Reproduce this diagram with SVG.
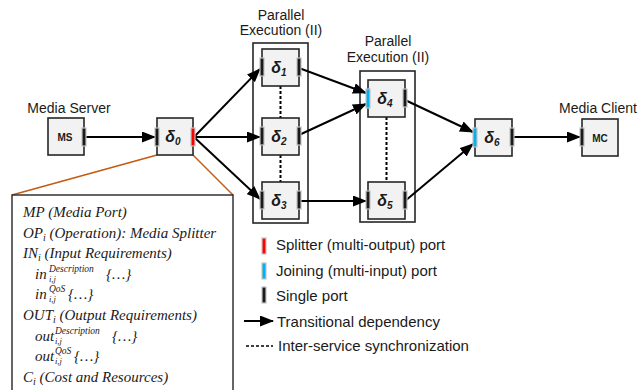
<svg xmlns="http://www.w3.org/2000/svg" width="641" height="390" viewBox="0 0 641 390">
<style>
.box{fill:#f2f2f2;stroke:#262626;stroke-width:1.6}
.par{fill:none;stroke:#262626;stroke-width:1.6}
.port{fill:#1a1a1a;stroke:#c4c4c4;stroke-width:1.2}
.red{fill:#ff0000;stroke:#c4c4c4;stroke-width:1.2}
.blue{fill:#00b0f0;stroke:#c4c4c4;stroke-width:1.2}
.lbl{font-family:"Liberation Sans",Arial,sans-serif;font-size:14px;fill:#1a1a1a;text-anchor:middle}
.d{font-family:"Liberation Sans",Arial,sans-serif;font-size:16px;font-weight:bold;font-style:italic;fill:#1a1a1a;text-anchor:middle}
.ms{font-family:"Liberation Sans",Arial,sans-serif;font-size:10px;font-weight:bold;fill:#1a1a1a;text-anchor:middle}
.leg{font-family:"Liberation Sans",Arial,sans-serif;font-size:15px;fill:#1a1a1a}
.m{font-family:"Liberation Serif","Times New Roman",serif;font-size:15px;font-style:italic;fill:#1a1a1a}
.sup{font-family:"Liberation Serif","Times New Roman",serif;font-size:9.5px;font-style:italic;fill:#1a1a1a}
.sub{font-family:"Liberation Serif","Times New Roman",serif;font-size:8.5px;font-style:italic;fill:#1a1a1a}
.arr{stroke:#000;stroke-width:2;fill:none;marker-end:url(#ah)}
.dot{stroke:#000;stroke-width:2;stroke-dasharray:3,2;fill:none}
.or{stroke:#c55a11;stroke-width:1.5;fill:none}
</style>
<defs>
<marker id="ah" markerUnits="userSpaceOnUse" markerWidth="14" markerHeight="11" refX="13" refY="5.5" orient="auto">
<path d="M0,0 L14,5.5 L0,11 z" fill="#000"/>
</marker>
</defs>
<rect width="641" height="390" fill="#fff"/>

<g id="labels">
<text class="lbl" x="69" y="113">Media Server</text>
<text class="lbl" x="598" y="113">Media Client</text>
<text class="lbl" x="281" y="20">Parallel</text>
<text class="lbl" x="281" y="35">Execution (II)</text>
<text class="lbl" x="388" y="46">Parallel</text>
<text class="lbl" x="388" y="62">Execution (II)</text>
</g>

<g id="parallel1"><rect class="par" x="253" y="43" width="55" height="180"/></g>
<g id="parallel2"><rect class="par" x="360" y="71" width="55" height="151"/></g>

<g id="connectors">
<line class="or" x1="157" y1="155" x2="12" y2="195"/>
<line class="or" x1="193" y1="155" x2="233" y2="195"/>
<line class="arr" x1="86" y1="137" x2="155" y2="137"/>
<line class="arr" x1="195" y1="136" x2="260" y2="69"/>
<line class="arr" x1="195" y1="137" x2="260" y2="137"/>
<line class="arr" x1="195" y1="138" x2="260" y2="199"/>
<line class="arr" x1="299" y1="68" x2="366" y2="93"/>
<line class="arr" x1="299" y1="135" x2="366" y2="104"/>
<line class="arr" x1="299" y1="201" x2="366" y2="201"/>
<line class="arr" x1="405" y1="100" x2="473" y2="132"/>
<line class="arr" x1="405" y1="201" x2="473" y2="144"/>
<line class="arr" x1="512" y1="137" x2="580" y2="137"/>
<line class="dot" x1="280.5" y1="86" x2="280.5" y2="118"/>
<line class="dot" x1="280.5" y1="155" x2="280.5" y2="182"/>
<line class="dot" x1="386.5" y1="117" x2="386.5" y2="182"/>
</g>

<g id="MS">
<rect class="box" x="48" y="118" width="36" height="37"/>
<text class="ms" x="65" y="141">MS</text>
<rect class="port" x="82" y="128" width="4" height="18"/>
</g>
<g id="d0">
<rect class="box" x="157" y="118" width="36" height="37"/>
<text class="d" x="173" y="142">δ<tspan font-size="10" dy="3">0</tspan></text>
<rect class="port" x="155" y="128" width="4" height="18"/>
<rect class="red" x="191" y="128" width="4" height="18"/>
</g>
<g id="d1">
<rect class="box" x="262" y="49" width="37" height="37"/>
<text class="d" x="279" y="73">δ<tspan font-size="10" dy="3">1</tspan></text>
<rect class="port" x="260" y="58" width="4" height="18"/>
<rect class="port" x="297" y="58" width="4" height="18"/>
</g>
<g id="d2">
<rect class="box" x="262" y="118" width="37" height="37"/>
<text class="d" x="279" y="142">δ<tspan font-size="10" dy="3">2</tspan></text>
<rect class="port" x="260" y="127" width="4" height="18"/>
<rect class="port" x="297" y="127" width="4" height="18"/>
</g>
<g id="d3">
<rect class="box" x="262" y="182" width="37" height="37"/>
<text class="d" x="279" y="206">δ<tspan font-size="10" dy="3">3</tspan></text>
<rect class="port" x="260" y="191" width="4" height="18"/>
<rect class="port" x="297" y="191" width="4" height="18"/>
</g>
<g id="d4">
<rect class="box" x="368" y="80" width="37" height="37"/>
<text class="d" x="385" y="104">δ<tspan font-size="10" dy="3">4</tspan></text>
<rect class="blue" x="366" y="89" width="4" height="19"/>
<rect class="port" x="403" y="89" width="4" height="18"/>
</g>
<g id="d5">
<rect class="box" x="368" y="182" width="37" height="37"/>
<text class="d" x="385" y="206">δ<tspan font-size="10" dy="3">5</tspan></text>
<rect class="port" x="366" y="191" width="4" height="18"/>
<rect class="port" x="403" y="191" width="4" height="18"/>
</g>
<g id="d6">
<rect class="box" x="475" y="119" width="37" height="37"/>
<text class="d" x="492" y="143">δ<tspan font-size="10" dy="3">6</tspan></text>
<rect class="blue" x="473" y="128" width="4" height="19"/>
<rect class="port" x="510" y="128" width="4" height="18"/>
</g>
<g id="MC">
<rect class="box" x="582" y="119" width="36" height="37"/>
<text class="ms" x="600" y="142">MC</text>
<rect class="port" x="580" y="128" width="4" height="18"/>
</g>

<g id="details">
<rect x="12" y="195" width="221" height="205" fill="#fff" stroke="#262626" stroke-width="1.4"/>
<text class="m" x="23" y="217">MP (Media Port)</text>
<text class="m" x="23" y="237.6">OP<tspan font-size="10" dy="3">i</tspan><tspan dy="-3"> (Operation): Media Splitter</tspan></text>
<text class="m" x="23" y="258.2">IN<tspan font-size="10" dy="3">i</tspan><tspan dy="-3"> (Input Requirements)</tspan></text>
<text class="m" x="35" y="278.8">in</text>
<text class="sup" x="49" y="271.8">Description</text>
<text class="sub" x="49" y="281.8">i,j</text>
<text class="m" x="106" y="278.8">{…}</text>
<text class="m" x="35" y="299.4">in</text>
<text class="sup" x="49" y="292.4">QoS</text>
<text class="sub" x="49" y="302.4">i,j</text>
<text class="m" x="68" y="299.4">{…}</text>
<text class="m" x="23" y="320">OUT<tspan font-size="10" dy="3">i</tspan><tspan dy="-3"> (Output Requirements)</tspan></text>
<text class="m" x="35" y="340.6">out</text>
<text class="sup" x="55" y="333.6">Description</text>
<text class="sub" x="55" y="343.6">i,j</text>
<text class="m" x="112" y="340.6">{…}</text>
<text class="m" x="35" y="361.2">out</text>
<text class="sup" x="55" y="354.2">QoS</text>
<text class="sub" x="55" y="364.2">i,j</text>
<text class="m" x="74" y="361.2">{…}</text>
<text class="m" x="23" y="381.8">C<tspan font-size="10" dy="3">i</tspan><tspan dy="-3"> (Cost and Resources)</tspan></text>
</g>

<g id="legend">
<rect class="red" x="262" y="238" width="4" height="16"/>
<text class="leg" x="276" y="250">Splitter (multi-output) port</text>
<rect class="blue" x="262" y="263" width="4" height="16"/>
<text class="leg" x="276" y="276">Joining (multi-input) port</text>
<rect class="port" x="262" y="287" width="4" height="16"/>
<text class="leg" x="276" y="301">Single port</text>
<line class="arr" x1="244" y1="321" x2="273" y2="321"/>
<text class="leg" x="277" y="327">Transitional dependency</text>
<line stroke="#000" stroke-width="1.5" stroke-dasharray="3,2" x1="246" y1="346" x2="273" y2="346"/>
<text class="leg" x="278" y="351">Inter-service synchronization</text>
</g>
</svg>
